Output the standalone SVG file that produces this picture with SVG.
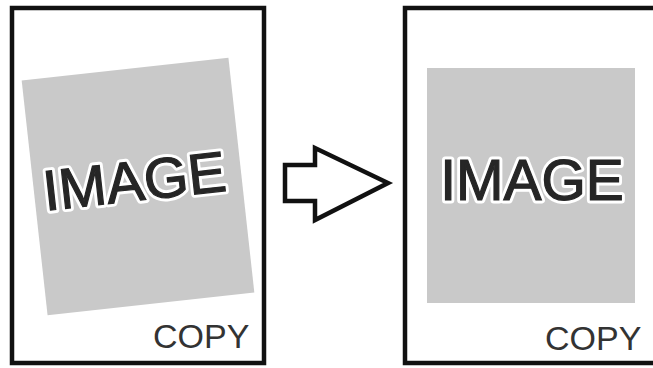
<svg xmlns="http://www.w3.org/2000/svg" width="653" height="368" viewBox="0 0 653 368">
<style>
.frame{fill:#fff;stroke:#111;stroke-width:4.5}
.img{fill:#c9c9c9}
.big{font-family:"Liberation Sans",Arial,sans-serif;font-size:57px;fill:#262626;text-anchor:middle}
.halo{stroke:#fff;stroke-width:7;stroke-linejoin:round}
.ink{stroke:#262626;stroke-width:1.2}
.lbl{font-family:"Liberation Sans",Arial,sans-serif;font-size:34px;fill:#333}
.arrow{fill:#fff;stroke:#111;stroke-width:4.5;stroke-linejoin:miter}
</style>
<rect width="653" height="368" fill="#fff"/>
<g id="before">
<rect class="frame" x="12" y="8" width="252" height="355"/>
<g transform="translate(138,186.5) rotate(-6.3)">
<rect class="img" x="-104" y="-118" width="208" height="236"/>
<text class="big halo" x="-3" y="14">IMAGE</text>
<text class="big ink" x="-3" y="14">IMAGE</text>
</g>
<text class="lbl" x="153" y="348">COPY</text>
</g>
<g id="connectors">
<polygon class="arrow" points="285,165 315,165 315,148 388,183 315,220 315,201 285,201"/>
</g>
<g id="after">
<rect class="frame" x="405" y="8" width="262" height="355"/>
<rect class="img" x="427" y="68" width="208" height="235"/>
<text class="big halo" x="532" y="200">IMAGE</text>
<text class="big ink" x="532" y="200">IMAGE</text>
<text class="lbl" x="545" y="350">COPY</text>
</g>
</svg>
